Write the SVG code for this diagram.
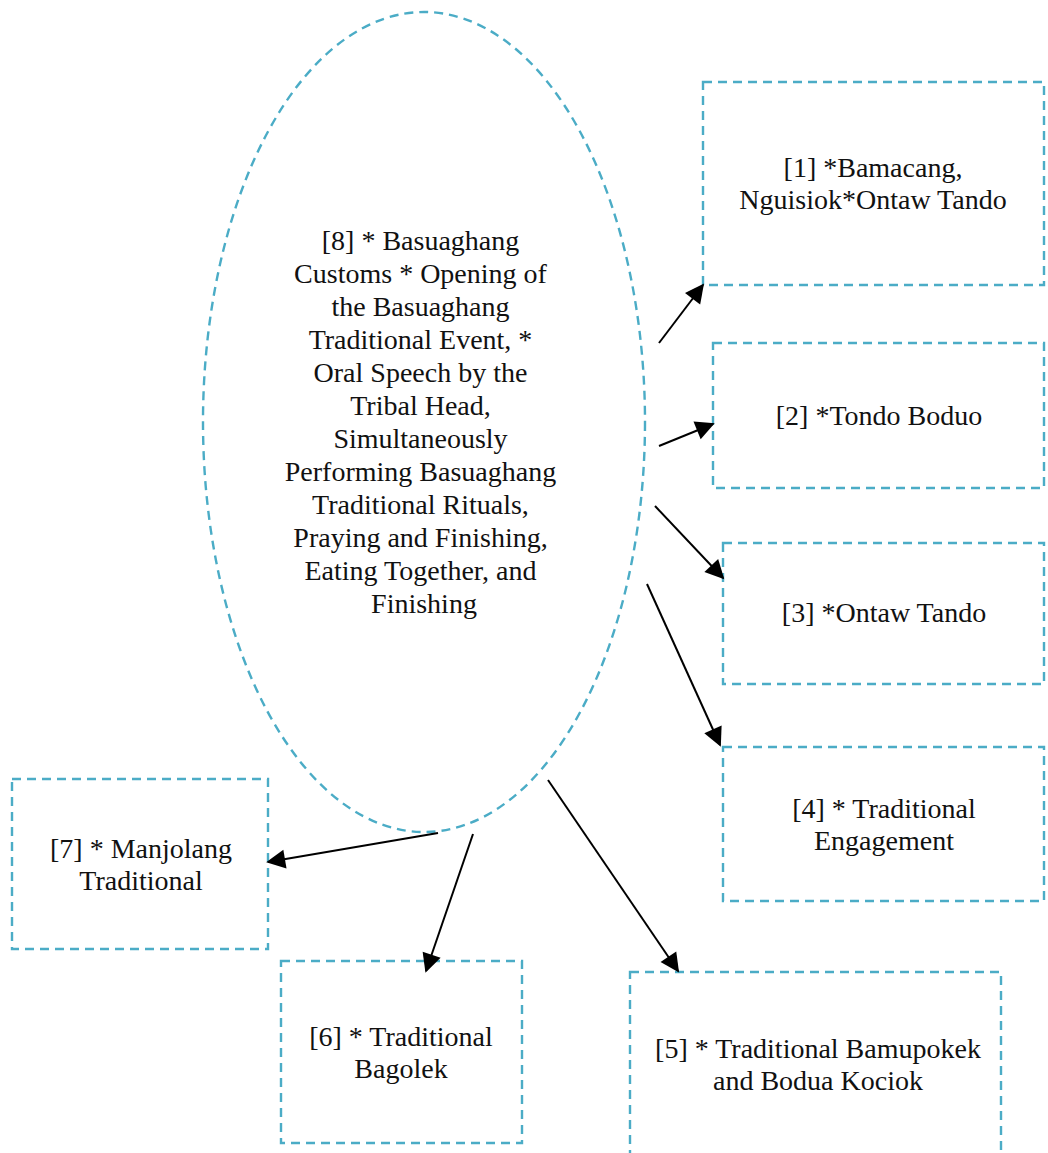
<svg xmlns="http://www.w3.org/2000/svg" width="1048" height="1153" viewBox="0 0 1048 1153">
  <style>
    .shape { fill: #ffffff; stroke: #4bacc6; stroke-width: 2.4; stroke-dasharray: 9 6; }
    .label { font-family: "Liberation Serif", "DejaVu Serif", serif; font-size: 28px; fill: #111111; text-anchor: middle; }
    .link { stroke: #000000; stroke-width: 2; fill: none; marker-end: url(#arrow); }
  </style>
  <defs>
    <marker id="arrow" viewBox="0 0 10 10" refX="9" refY="5" markerWidth="10" markerHeight="10" markerUnits="userSpaceOnUse" orient="auto" overflow="visible">
      <path d="M0,0 L10,5 L0,10 z" fill="#000000" transform="scale(1.9) translate(-4.3,-2.4)"/>
    </marker>
  </defs>
  <rect width="1048" height="1153" fill="#ffffff"/>

  <g id="node8">
    <ellipse class="shape" cx="424" cy="422" rx="221" ry="410"/>
    <text class="label">
      <tspan x="424" y="250">[8] * Basuaghang</tspan>
      <tspan x="424" y="283">Customs * Opening of</tspan>
      <tspan x="424" y="316">the Basuaghang</tspan>
      <tspan x="424" y="349">Traditional Event, *</tspan>
      <tspan x="424" y="382">Oral Speech by the</tspan>
      <tspan x="424" y="415">Tribal Head,</tspan>
      <tspan x="424" y="448">Simultaneously</tspan>
      <tspan x="424" y="481">Performing Basuaghang</tspan>
      <tspan x="424" y="514">Traditional Rituals,</tspan>
      <tspan x="424" y="547">Praying and Finishing,</tspan>
      <tspan x="424" y="580">Eating Together, and</tspan>
      <tspan x="424" y="613">Finishing</tspan>
    </text>
  </g>

  <g id="node1">
    <rect class="shape" x="703" y="82" width="341" height="203"/>
    <text class="label"><tspan x="873" y="177">[1] *Bamacang,</tspan><tspan x="873" y="209">Nguisiok*Ontaw Tando</tspan></text>
  </g>
  <g id="node2">
    <rect class="shape" x="713" y="343" width="331" height="145"/>
    <text class="label"><tspan x="879" y="425">[2] *Tondo Boduo</tspan></text>
  </g>
  <g id="node3">
    <rect class="shape" x="723" y="543" width="321" height="141"/>
    <text class="label"><tspan x="884" y="622">[3] *Ontaw Tando</tspan></text>
  </g>
  <g id="node4">
    <rect class="shape" x="723" y="747" width="321" height="154"/>
    <text class="label"><tspan x="884" y="818">[4] * Traditional</tspan><tspan x="884" y="850">Engagement</tspan></text>
  </g>
  <g id="node5">
    <rect class="shape" x="630" y="972" width="371" height="195"/>
    <text class="label"><tspan x="818" y="1058">[5] * Traditional Bamupokek</tspan><tspan x="818" y="1090">and Bodua Kociok</tspan></text>
  </g>
  <g id="node6">
    <rect class="shape" x="281" y="961" width="241" height="182"/>
    <text class="label"><tspan x="401" y="1046">[6] * Traditional</tspan><tspan x="401" y="1078">Bagolek</tspan></text>
  </g>
  <g id="node7">
    <rect class="shape" x="12" y="779" width="256" height="170"/>
    <text class="label"><tspan x="141" y="858">[7] * Manjolang</tspan><tspan x="141" y="890">Traditional</tspan></text>
  </g>

  <g id="connectors">
    <line class="link" x1="659" y1="343" x2="703" y2="285"/>
    <line class="link" x1="659" y1="446" x2="713" y2="424"/>
    <line class="link" x1="655" y1="506" x2="723" y2="578"/>
    <line class="link" x1="647" y1="584" x2="720" y2="745"/>
    <line class="link" x1="548" y1="780" x2="678" y2="971"/>
    <line class="link" x1="473" y1="834" x2="426" y2="971"/>
    <line class="link" x1="438" y1="833" x2="268" y2="862"/>
  </g>
</svg>
